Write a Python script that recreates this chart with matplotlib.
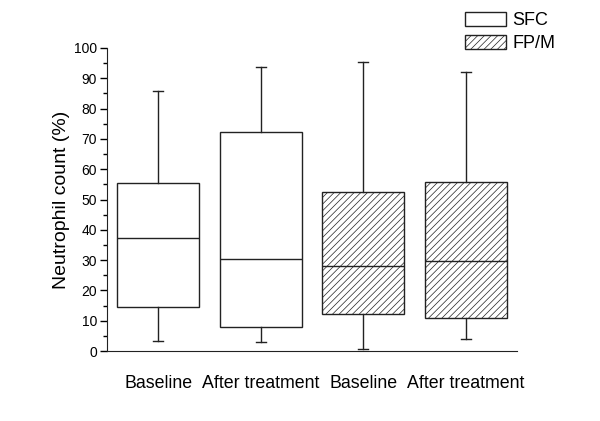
import matplotlib.pyplot as plt
from matplotlib.patches import Patch

plt.rcParams['font.family'] = ['Liberation Sans', 'DejaVu Sans']
plt.rcParams['hatch.linewidth'] = 0.5
plt.rcParams['hatch.color'] = '#555555'

# box statistics
labels = ['Baseline', 'After treatment', 'Baseline', 'After treatment']
groups = ['SFC', 'SFC', 'FP/M', 'FP/M']
whislo = [3.5, 2.9, 0.6, 3.9]
q1 = [14.5, 7.9, 12.3, 11.0]
med = [37.3, 30.3, 28.0, 29.8]
q3 = [55.3, 72.2, 52.4, 55.7]
whishi = [85.8, 93.8, 95.3, 92.1]

stats = []
for i in range(len(labels)):
    stats.append(dict(label=labels[i], whislo=whislo[i], q1=q1[i], med=med[i],
                      q3=q3[i], whishi=whishi[i], fliers=[]))

fig = plt.figure(figsize=(6, 4.21), dpi=100)
ax = fig.add_axes([0.178, 0.166, 0.684, 0.72])

line = dict(color='#222222', linewidth=1.0)
bp = ax.bxp(stats, positions=[1, 2, 3, 4], widths=0.8, patch_artist=True,
            showfliers=False, boxprops=line, medianprops=line,
            whiskerprops=line, capprops=line, capwidths=0.1)

for box, g in zip(bp['boxes'], groups):
    box.set_facecolor('white')
    if g == 'FP/M':
        box.set_hatch('/////')

ax.set_xlim(0.5, 4.5)
ax.set_ylim(0, 100)
ax.set_yticks(range(0, 101, 10))
ax.set_yticks(range(5, 100, 10), minor=True)
ax.tick_params(axis='y', direction='out', length=5, labelsize=10, width=1, pad=2)
ax.tick_params(axis='y', which='minor', length=3, width=1)
ax.tick_params(axis='x', length=0, labelsize=12.8, pad=17)
ax.set_xticks([1, 2, 3, 4])
ax.set_xticklabels(labels)
ax.set_ylabel('Neutrophil count (%)', fontsize=14, labelpad=3)

for s in ['top', 'right']:
    ax.spines[s].set_visible(False)
for s in ['left', 'bottom']:
    ax.spines[s].set_color('#222222')

handles = [Patch(facecolor='white', edgecolor='#222222', linewidth=1.0, label='SFC'),
           Patch(facecolor='white', edgecolor='#222222', linewidth=1.0,
                 hatch='/////', label='FP/M')]
fig.legend(handles=handles, loc='upper left', bbox_to_anchor=(0.755, 1.0),
           frameon=False, fontsize=13, handlelength=2.3, handleheight=0.85,
           labelspacing=0.3, handletextpad=0.35, borderaxespad=0.25)

fig.savefig('out.png', dpi=100)
